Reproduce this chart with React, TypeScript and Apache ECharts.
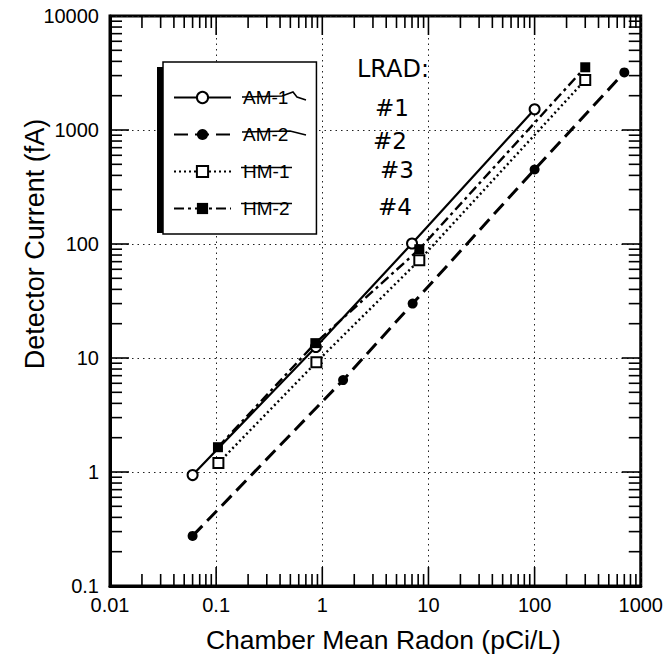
import React, { useEffect, useRef } from "react";
import * as echarts from "echarts";

// Chamber Mean Radon (pCi/L), Detector Current (fA)
const AM1 = [[0.06, 0.94], [0.87, 12.5], [7, 101], [100, 1520]];
const AM2 = [[0.06, 0.275], [1.57, 6.4], [7.1, 30], [100, 450], [700, 3200]];
const HM1 = [[0.105, 1.2], [0.88, 9.2], [8.2, 72], [300, 2750]];
const HM2 = [[0.104, 1.65], [0.86, 13.5], [8.2, 90], [300, 3550]];

const seriesNames = ["AM-1", "AM-2", "HM-1", "HM-2"];
const xDecades = [0.01, 0.1, 1, 10, 100];
const yDecades = [0.1, 1, 10, 100, 1000];
const multipliers = [2, 3, 4, 5, 6, 7, 8, 9];
const xMajorInner = [0.1, 1, 10, 100];
const yMajorInner = [1, 10, 100, 1000];
const annotations = ["LRAD:", "#1", "#2", "#3", "#4"];

const X_MIN = 0.01, X_MAX = 1000, Y_MIN = 0.1, Y_MAX = 10000;
const FONT = "Liberation Sans, Arial, Helvetica, sans-serif";
const HAND = "DejaVu Sans, sans-serif";

export default function App() {
  const ref = useRef<HTMLDivElement>(null);
  useEffect(() => {
    if (!ref.current) return;
    const chart = echarts.init(ref.current, null, { renderer: "svg" });

    const fmt = (v: number) => String(Number(Number(v).toPrecision(3)));

    // tick items: [x, y, side (0 bottom,1 top,2 left,3 right), length]
    const tickData: number[][] = [];
    const pushX = (v: number, len: number) => {
      tickData.push([v, 1, 0, len]);
      tickData.push([v, 1, 1, len]);
    };
    const pushY = (v: number, len: number) => {
      tickData.push([1, v, 2, len]);
      tickData.push([1, v, 3, len]);
    };
    xDecades.forEach((d) => multipliers.forEach((m) => pushX(d * m, 12)));
    xMajorInner.forEach((v) => pushX(v, 19));
    yDecades.forEach((d) => multipliers.forEach((m) => pushY(d * m, 12)));
    yMajorInner.forEach((v) => pushY(v, 19));

    // decade counts from the reference points (1, 1) to each plot edge
    const dLeft = Math.log10(X_MIN);
    const dRight = Math.log10(X_MAX);
    const dBottom = Math.log10(Y_MIN);
    const dTop = Math.log10(Y_MAX);

    const graphic: any[] = [
      { type: "rect", z: 1, shape: { x: 157, y: 67, width: 155, height: 166 }, style: { fill: "#000" } },
      { type: "polyline", z: 10, shape: { points: [[242, 97], [282, 96], [293, 92], [297, 97], [306, 100]] }, style: { stroke: "#000", lineWidth: 1.5, fill: "none" } },
      { type: "polyline", z: 10, shape: { points: [[242, 132], [290, 131], [306, 135]] }, style: { stroke: "#000", lineWidth: 1.5, fill: "none" } },
      { type: "line", z: 10, shape: { x1: 241, y1: 167.5, x2: 292, y2: 167.5 }, style: { stroke: "#000", lineWidth: 1.5 } },
      { type: "line", z: 10, shape: { x1: 241, y1: 203.5, x2: 292, y2: 203.5 }, style: { stroke: "#000", lineWidth: 1.5 } },
      { type: "text", z: 10, x: 357, y: 57, style: { text: annotations[0], fontSize: 24, fontFamily: HAND, fill: "#000" } },
      { type: "text", z: 10, x: 375, y: 96, style: { text: annotations[1], fontSize: 23, fontFamily: HAND, fill: "#000" } },
      { type: "text", z: 10, x: 373, y: 129, style: { text: annotations[2], fontSize: 23, fontFamily: HAND, fill: "#000" } },
      { type: "text", z: 10, x: 380, y: 158, style: { text: annotations[3], fontSize: 23, fontFamily: HAND, fill: "#000" } },
      { type: "text", z: 10, x: 378, y: 195, style: { text: annotations[4], fontSize: 23, fontFamily: HAND, fill: "#000" } },
      {
        type: "text",
        z: 10,
        x: 35,
        y: 244,
        rotation: Math.PI / 2,
        style: { text: "Detector Current (fA)", fontSize: 27, fontFamily: FONT, fill: "#000", align: "center", verticalAlign: "middle" },
      },
    ];

    const option: any = {
      animation: false,
      backgroundColor: "#fff",
      textStyle: { fontFamily: FONT },
      grid: {
        left: 110,
        right: 22,
        top: 16,
        bottom: 72,
        show: true,
        borderColor: "#000",
        borderWidth: 3,
        backgroundColor: "transparent",
      },
      xAxis: {
        type: "log",
        logBase: 10,
        min: X_MIN,
        max: X_MAX,
        name: "Chamber Mean Radon (pCi/L)",
        nameLocation: "middle",
        nameGap: 40,
        nameTextStyle: { fontSize: 26.5, color: "#000", fontFamily: FONT, padding: [0, 0, 0, 16] },
        axisLine: { show: true, lineStyle: { color: "#000", width: 3 } },
        axisTick: { show: false },
        axisLabel: { color: "#000", fontSize: 20, margin: 9, fontFamily: FONT, formatter: fmt },
        splitLine: { show: true, lineStyle: { color: "#222", width: 1, type: [1.5, 4] } },
      },
      yAxis: {
        type: "log",
        logBase: 10,
        min: Y_MIN,
        max: Y_MAX,
        axisLine: { show: true, lineStyle: { color: "#000", width: 3 } },
        axisTick: { show: false },
        axisLabel: { color: "#000", fontSize: 20, margin: 11, fontFamily: FONT, formatter: fmt },
        splitLine: { show: true, lineStyle: { color: "#222", width: 1, type: [1.5, 4] } },
      },
      legend: {
        data: seriesNames,
        orient: "vertical",
        left: 163,
        top: 62,
        itemWidth: 57,
        itemHeight: 14,
        itemGap: 18,
        padding: [26, 27, 16, 10],
        backgroundColor: "#fff",
        borderColor: "#000",
        borderWidth: 1.5,
        borderRadius: 0,
        z: 5,
        textStyle: { color: "#000", fontSize: 19, fontFamily: FONT, padding: [0, 0, 0, 7] },
      },
      series: [
        {
          type: "custom",
          name: "ticks",
          data: tickData,
          renderItem: (params: any, api: any) => {
            try {
              const v0 = api.value(0);
              const v1 = api.value(1);
              const side = api.value(2);
              const len = api.value(3);
              const a = api.coord([1, 1]);
              const b = api.coord([10, 10]);
              const dx = b[0] - a[0];
              const dy = b[1] - a[1];
              const left = a[0] + dLeft * dx;
              const right = a[0] + dRight * dx;
              const bottom = a[1] + dBottom * dy;
              const top = a[1] + dTop * dy;
              const p = api.coord([v0, v1]);
              if (![left, right, bottom, top, p[0], p[1]].every((n) => Number.isFinite(n))) return null;
              const w = 1.6;
              let shape;
              if (side === 0) shape = { x: p[0] - w / 2, y: bottom - len, width: w, height: len };
              else if (side === 1) shape = { x: p[0] - w / 2, y: top, width: w, height: len };
              else if (side === 2) shape = { x: left, y: p[1] - w / 2, width: len, height: w };
              else shape = { x: right - len, y: p[1] - w / 2, width: len, height: w };
              return { type: "rect", shape, style: { fill: "#000" } };
            } catch (e) {
              return null;
            }
          },
        },
        {
          name: "AM-1",
          type: "line",
          data: AM1,
          symbol: "emptyCircle",
          symbolSize: 10,
          color: "#000",
          lineStyle: { color: "#000", width: 2.2, type: "solid" },
          itemStyle: { color: "#000", borderColor: "#000", borderWidth: 1.5 },
          z: 3,
        },
        {
          name: "AM-2",
          type: "line",
          data: AM2,
          symbol: "circle",
          symbolSize: 10,
          color: "#000",
          lineStyle: { color: "#000", width: 3, type: [14, 7] },
          itemStyle: { color: "#000" },
          z: 3,
        },
        {
          name: "HM-1",
          type: "line",
          data: HM1,
          symbol: "emptyRect",
          symbolSize: 10,
          color: "#000",
          lineStyle: { color: "#000", width: 2.4, type: [2, 3] },
          itemStyle: { color: "#000", borderColor: "#000", borderWidth: 1.5 },
          z: 3,
        },
        {
          name: "HM-2",
          type: "line",
          data: HM2,
          symbol: "rect",
          symbolSize: 10,
          color: "#000",
          lineStyle: { color: "#000", width: 2.4, type: [10, 4, 3, 4] },
          itemStyle: { color: "#000" },
          z: 4,
        },
      ],
      graphic,
    };

    try {
      chart.setOption(option);
    } catch (e) {}
    return () => chart.dispose();
  }, []);

  return <div ref={ref} style={{ width: 666, height: 658, position: "absolute", left: 0, top: 0 }} />;
}
